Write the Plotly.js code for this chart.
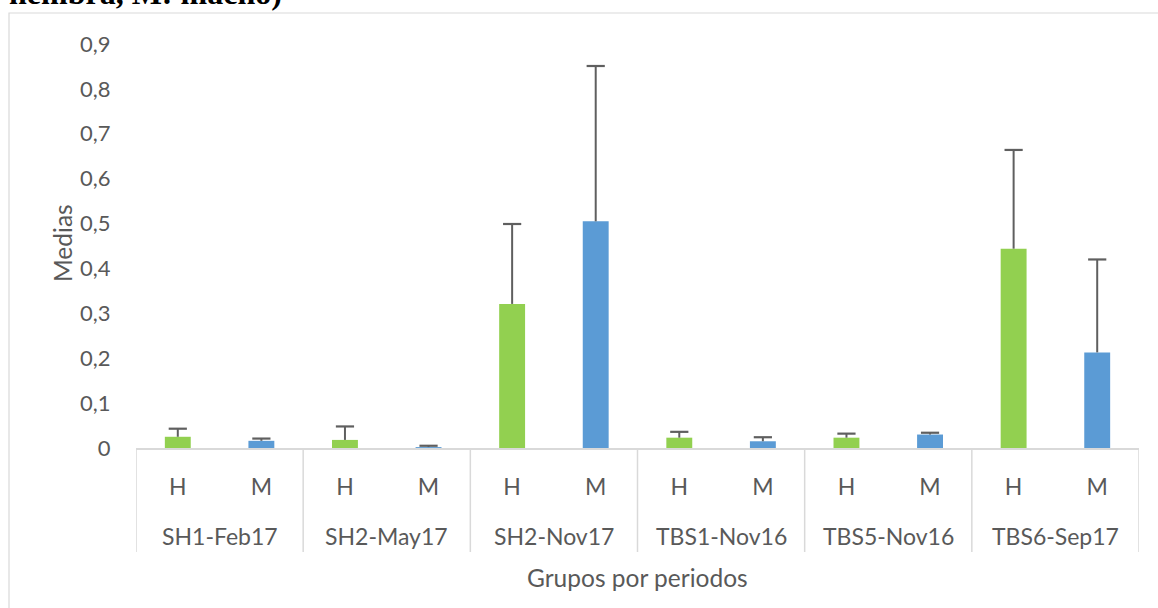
<!DOCTYPE html>
<html>
<head>
<meta charset="utf-8">
<script src="https://cdn.plot.ly/plotly-3.0.1.min.js"></script>
<style>
  html, body { margin: 0; padding: 0; background: #ffffff; }
  #chart { width: 1158px; height: 608px; }
</style>
</head>
<body>
<div id="chart"></div>
<script>
// ---- Data ----
const groups = ["SH1-Feb17", "SH2-May17", "SH2-Nov17", "TBS1-Nov16", "TBS5-Nov16", "TBS6-Sep17"];
const sexes = ["H", "M"];
const meansH = [0.025, 0.018, 0.321, 0.023, 0.023, 0.444];
const errorsH = [0.018, 0.030, 0.178, 0.013, 0.009, 0.220];
const meansM = [0.016, 0.002, 0.505, 0.015, 0.030, 0.213];
const errorsM = [0.005, 0.003, 0.346, 0.009, 0.004, 0.207];
const yTickVals = [0, 0.1, 0.2, 0.3, 0.4, 0.5, 0.6, 0.7, 0.8, 0.9];
const yTickText = ["0", "0,1", "0,2", "0,3", "0,4", "0,5", "0,6", "0,7", "0,8", "0,9"];
const yTitle = "Medias";
const xTitle = "Grupos por periodos";
const topText = "hembra, M: macho)";

// ---- Layout geometry (pixels) ----
const W = 1158, H = 608;
const M = { l: 136, r: 19, t: 44, b: 160 };
const plotW = W - M.l - M.r, plotH = H - M.t - M.b;
const px2x = px => (px - M.l) / plotW;
const py2y = py => (H - M.b - py) / plotH;

const nPer = sexes.length;
const xH = groups.map((g, i) => i * nPer);
const xM = groups.map((g, i) => i * nPer + 1);
const allX = [], allText = [];
groups.forEach((g, i) => sexes.forEach((s, j) => { allX.push(i * nPer + j); allText.push(s); }));

const FONT = "Lato, 'Open Sans', sans-serif";
const TXT = "#595959";
const GRID = "#d9d9d9";
const ERR = "#5f5f5f";
const barW = 0.31;

function barTrace(name, xs, ys, errs, color) {
  return {
    type: "bar", name: name, x: xs, y: ys, width: barW,
    marker: { color: color },
    error_y: { type: "data", symmetric: false, array: errs, arrayminus: errs.map(() => 0),
               color: ERR, thickness: 2, width: 0 },
    hoverinfo: "y"
  };
}
function capTrace(xs, ys, errs) {
  return {
    type: "scatter", mode: "markers", x: xs, y: ys.map((v, i) => v + errs[i]),
    marker: { symbol: "line-ew", size: 13, line: { color: ERR, width: 2.2 } },
    hoverinfo: "skip", cliponaxis: false
  };
}

const traces = [
  barTrace("H", xH, meansH, errorsH, "#92d050"),
  barTrace("M", xM, meansM, errorsM, "#5b9bd5"),
  capTrace(xH, meansH, errorsH),
  capTrace(xM, meansM, errorsM)
];

const shapes = [];
// group dividers below the axis
for (let i = 0; i <= groups.length; i++) {
  shapes.push({
    type: "line", xref: "x", yref: "paper",
    x0: i * nPer - 0.5, x1: i * nPer - 0.5,
    y0: 0, y1: py2y(552),
    line: { color: GRID, width: 1.5 }
  });
}
// outer chart border
shapes.push({
  type: "rect", xref: "paper", yref: "paper",
  x0: px2x(9), x1: px2x(1170), y0: py2y(13), y1: py2y(630),
  line: { color: GRID, width: 1.2 }, fillcolor: "rgba(0,0,0,0)", layer: "below"
});

const annotations = groups.map((g, i) => ({
  text: g, xref: "x", yref: "paper", x: i * nPer + (nPer - 1) / 2, y: py2y(536),
  xanchor: "center", yanchor: "middle", showarrow: false,
  font: { family: FONT, size: 23, color: TXT }
}));
annotations.push({
  text: xTitle, xref: "paper", yref: "paper", x: 0.5, y: py2y(577),
  xanchor: "center", yanchor: "middle", showarrow: false,
  font: { family: FONT, size: 24.5, color: TXT }
});
annotations.push({
  text: yTitle, xref: "paper", yref: "paper", x: px2x(62), y: py2y(243),
  xanchor: "center", yanchor: "middle", showarrow: false, textangle: -90,
  font: { family: FONT, size: 24.5, color: TXT }
});
annotations.push({
  text: "<b>" + topText + "</b>", xref: "paper", yref: "paper", x: px2x(7), y: py2y(13),
  xanchor: "left", yanchor: "bottom", showarrow: false,
  font: { family: "'Liberation Serif', 'Times New Roman', serif", size: 32, color: "#000000" }
});

const layout = {
  width: W, height: H,
  margin: M,
  paper_bgcolor: "#ffffff", plot_bgcolor: "#ffffff",
  showlegend: false,
  barmode: "overlay",
  separators: ",.",
  xaxis: {
    range: [-0.5, groups.length * nPer - 0.5],
    tickmode: "array", tickvals: allX, ticktext: allText,
    ticks: "outside", ticklen: 18, tickcolor: "rgba(0,0,0,0)",
    showgrid: false, zeroline: false,
    showline: true, linecolor: GRID, linewidth: 1.5,
    tickfont: { family: FONT, size: 23, color: TXT },
    fixedrange: true
  },
  yaxis: {
    range: [0, 0.9],
    tickmode: "array", tickvals: yTickVals, ticktext: yTickText,
    ticks: "outside", ticklen: 20, tickcolor: "rgba(0,0,0,0)",
    showgrid: false, zeroline: false, showline: false,
    tickfont: { family: FONT, size: 22, color: TXT },
    fixedrange: true
  },
  shapes: shapes,
  annotations: annotations
};

Plotly.newPlot("chart", traces, layout, { displayModeBar: false, staticPlot: true });
</script>
</body>
</html>
